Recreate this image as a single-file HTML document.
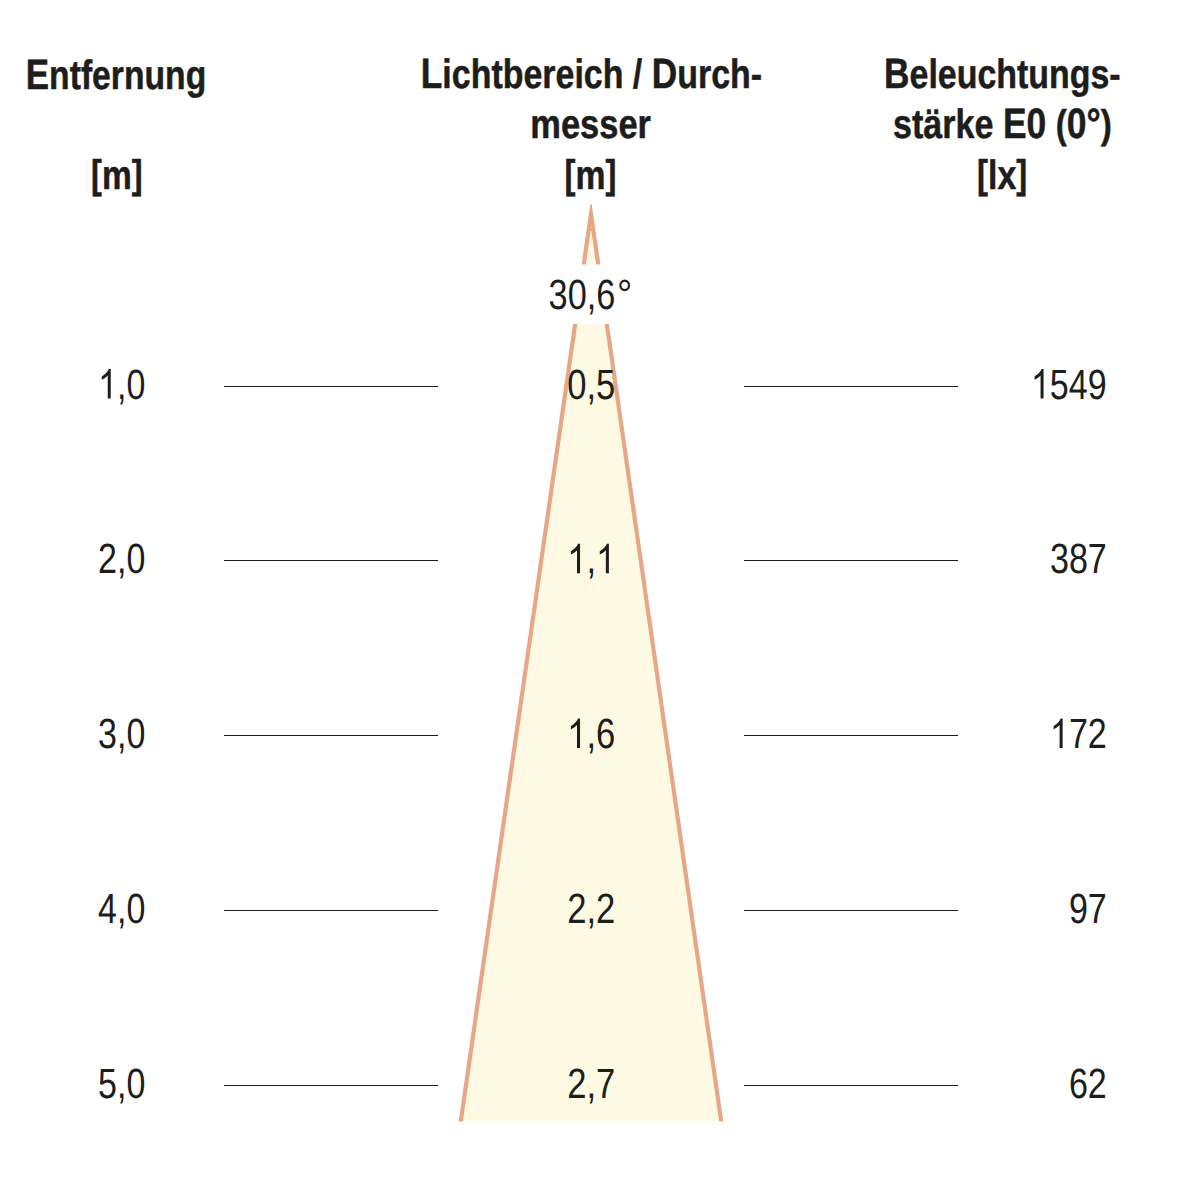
<!DOCTYPE html>
<html lang="de"><head><meta charset="utf-8"><title>Lichtkegel</title>
<style>html,body{margin:0;padding:0;background:#fff}body{width:1182px;height:1182px;overflow:hidden}svg{display:block}text{font-family:"Liberation Sans",sans-serif;fill:#1d1d1b;font-kerning:none;text-rendering:geometricPrecision}path{fill:#1d1d1b}.b{font-weight:700;stroke:#1d1d1b;stroke-width:.5px;stroke-linejoin:round}</style></head><body>
<svg width="1182" height="1182" viewBox="0 0 1182 1182">
<rect width="1182" height="1182" fill="#fff"/>
<polygon points="590.25,204.4 591.75,204.4 724.21,1127.5 457.79,1127.5" fill="#e7a686"/>
<polygon points="590.64,231.0 591.36,231.0 720.01,1127.5 461.99,1127.5" fill="#fef9e2"/>
<rect x="440" y="1121.5" width="302" height="10" fill="#fff"/>
<rect x="540" y="264.5" width="100" height="59.5" fill="#fff"/>
<text class="b" transform="translate(116.02 88.5) scale(0.8216 1)" text-anchor="middle" font-size="41"><tspan font-size="42.6">E</tspan>ntfernung</text>
<text class="b" transform="translate(116.82 188.6) scale(0.8160 1)" text-anchor="middle" font-size="41"><tspan font-size="39.9" dy="-0.4">[</tspan><tspan dy="0.4">m</tspan><tspan font-size="39.9" dy="-0.4">]</tspan></text>
<text class="b" transform="translate(591.43 88.4) scale(0.8278 1)" text-anchor="middle" font-size="41"><tspan font-size="42.6">L</tspan>ichtbereich / <tspan font-size="42.6">D</tspan>urch-</text>
<text class="b" transform="translate(590.61 138.2) scale(0.8401 1)" text-anchor="middle" font-size="41">messer</text>
<text class="b" transform="translate(590.57 188.6) scale(0.8230 1)" text-anchor="middle" font-size="41"><tspan font-size="39.9" dy="-0.4">[</tspan><tspan dy="0.4">m</tspan><tspan font-size="39.9" dy="-0.4">]</tspan></text>
<text class="b" transform="translate(1002.37 88.4) scale(0.8274 1)" text-anchor="middle" font-size="41"><tspan font-size="42.6">B</tspan>eleuchtungs-</text>
<text class="b" transform="translate(1002.35 138.2) scale(0.8320 1)" text-anchor="middle" font-size="41">stärke <tspan font-size="42.6">E0</tspan> <tspan font-size="39.9" dy="-0.4">(</tspan><tspan font-size="42.6" dy="0.4">0°</tspan><tspan font-size="39.9" dy="-0.4">)</tspan></text>
<text class="b" transform="translate(1002.15 188.5) scale(0.8256 1)" text-anchor="middle" font-size="41"><tspan font-size="39.9" dy="-0.4">[</tspan><tspan dy="0.4">lx</tspan><tspan font-size="39.9" dy="-0.4">]</tspan></text>
<g transform="translate(548.59 309.25) scale(0.8102 1)"><text x="0.00" font-size="42.3">30,6</text></g>
<g transform="translate(617.00 309.25) scale(0.9054 1)"><text x="0.00" font-size="42.3">°</text></g>
<rect x="224" y="386" width="214" height="1" fill="#1d1d1b"/>
<rect x="744" y="386" width="214" height="1" fill="#1d1d1b"/>
<g transform="translate(98.06 398.50) scale(0.8038 1)"><path transform="translate(0.00 0) scale(0.02065 -0.02004)" d="M763 0H583V1147Q518 1085 412.5 1023T223 930V1104Q374 1175 487 1276T647 1472H763Z"/><text x="23.53" font-size="42.3">,0</text></g>
<g transform="translate(567.15 398.50) scale(0.8180 1)"><text x="0.00" font-size="42.3">0,5</text></g>
<g transform="translate(1030.86 398.50) scale(0.8061 1)"><path transform="translate(0.00 0) scale(0.02065 -0.02004)" d="M763 0H583V1147Q518 1085 412.5 1023T223 930V1104Q374 1175 487 1276T647 1472H763Z"/><text x="23.53" font-size="42.3">549</text></g>
<rect x="224" y="560" width="214" height="1" fill="#1d1d1b"/>
<rect x="744" y="560" width="214" height="1" fill="#1d1d1b"/>
<g transform="translate(98.06 573.26) scale(0.8038 1)"><text x="0.00" font-size="42.3">2,0</text></g>
<g transform="translate(567.15 573.26) scale(0.8180 1)"><path transform="translate(0.00 0) scale(0.02065 -0.02004)" d="M763 0H583V1147Q518 1085 412.5 1023T223 930V1104Q374 1175 487 1276T647 1472H763Z"/><text x="23.53" font-size="42.3">,</text><path transform="translate(35.28 0) scale(0.02065 -0.02004)" d="M763 0H583V1147Q518 1085 412.5 1023T223 930V1104Q374 1175 487 1276T647 1472H763Z"/></g>
<g transform="translate(1049.92 573.26) scale(0.8061 1)"><text x="0.00" font-size="42.3">387</text></g>
<rect x="224" y="735" width="214" height="1" fill="#1d1d1b"/>
<rect x="744" y="735" width="214" height="1" fill="#1d1d1b"/>
<g transform="translate(98.06 748.02) scale(0.8038 1)"><text x="0.00" font-size="42.3">3,0</text></g>
<g transform="translate(567.15 748.02) scale(0.8180 1)"><path transform="translate(0.00 0) scale(0.02065 -0.02004)" d="M763 0H583V1147Q518 1085 412.5 1023T223 930V1104Q374 1175 487 1276T647 1472H763Z"/><text x="23.53" font-size="42.3">,6</text></g>
<g transform="translate(1049.92 748.02) scale(0.8061 1)"><path transform="translate(0.00 0) scale(0.02065 -0.02004)" d="M763 0H583V1147Q518 1085 412.5 1023T223 930V1104Q374 1175 487 1276T647 1472H763Z"/><text x="23.53" font-size="42.3">72</text></g>
<rect x="224" y="910" width="214" height="1" fill="#1d1d1b"/>
<rect x="744" y="910" width="214" height="1" fill="#1d1d1b"/>
<g transform="translate(98.06 922.78) scale(0.8038 1)"><text x="0.00" font-size="42.3">4,0</text></g>
<g transform="translate(567.15 922.78) scale(0.8180 1)"><text x="0.00" font-size="42.3">2,2</text></g>
<g transform="translate(1068.89 922.78) scale(0.8061 1)"><text x="0.00" font-size="42.3">97</text></g>
<rect x="224" y="1085" width="214" height="1" fill="#1d1d1b"/>
<rect x="744" y="1085" width="214" height="1" fill="#1d1d1b"/>
<g transform="translate(98.06 1097.54) scale(0.8038 1)"><text x="0.00" font-size="42.3">5,0</text></g>
<g transform="translate(567.15 1097.54) scale(0.8180 1)"><text x="0.00" font-size="42.3">2,7</text></g>
<g transform="translate(1068.89 1097.54) scale(0.8061 1)"><text x="0.00" font-size="42.3">62</text></g>
</svg></body></html>
